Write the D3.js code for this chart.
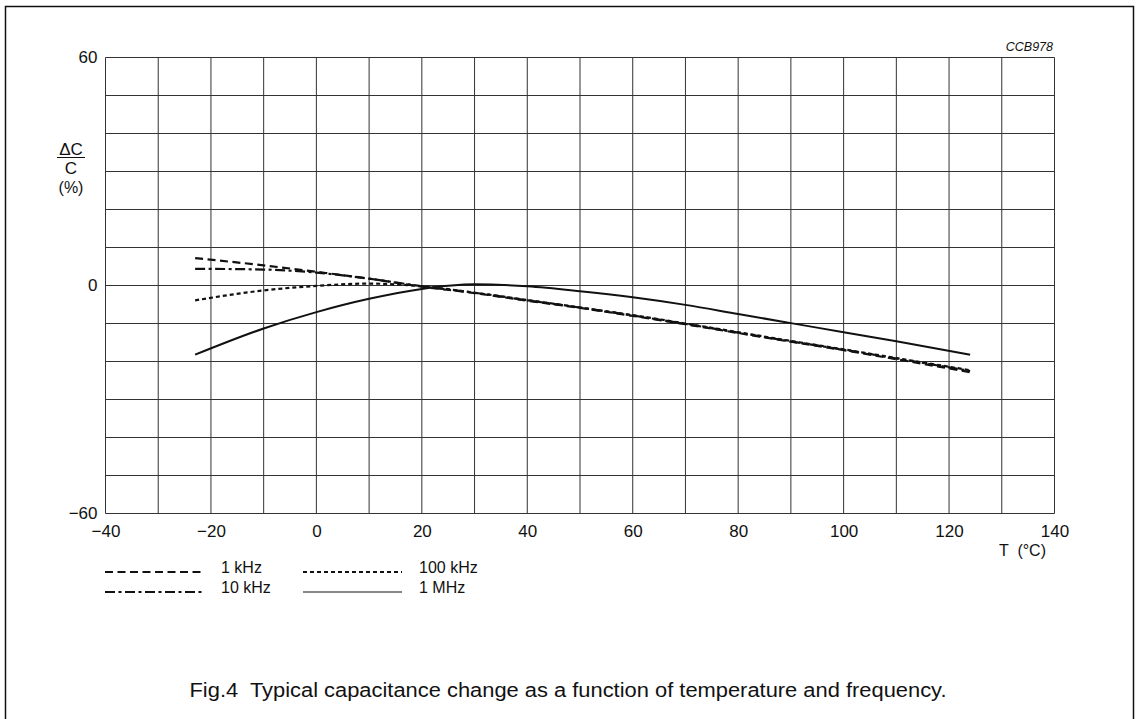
<!DOCTYPE html>
<html>
<head>
<meta charset="utf-8">
<script src="https://cdn.jsdelivr.net/npm/d3@7"></script>
<style>
  body { margin: 0; background: #fff; }
  svg { display: block; }
  text { font-family: "Liberation Sans", Arial, sans-serif; fill: #111; }
</style>
</head>
<body>
<svg id="chart" width="1136" height="719"></svg>
<script>
// temperature points (°C)
const temps = [-23, -10, 0, 10, 20, 30, 40, 50, 60, 70, 80, 90, 100, 110, 124];
// capacitance change (%) per frequency
const khz1   = [7.2, 5.3, 3.6, 1.8, -0.3, -2.0, -4.0, -5.9, -8.0, -10.2, -12.5, -14.8, -17.0, -19.4, -22.8];
const khz10  = [4.4, 4.2, 3.4, 1.8, -0.2, -1.9, -3.9, -5.8, -7.9, -10.1, -12.4, -14.7, -16.9, -19.2, -22.5];
const khz100 = [-3.9, -1.3, -0.1, 0.5, -0.2, -1.9, -3.8, -5.8, -7.8, -10.0, -12.3, -14.6, -16.8, -19.1, -22.3];
const mhz1   = [-18.2, -11.3, -7.0, -3.5, -0.9, 0.3, -0.2, -1.5, -3.1, -5.1, -7.5, -9.9, -12.3, -14.7, -18.2];

const seriesNames = ["1 kHz", "10 kHz", "100 kHz", "1 MHz"];
const xTickLabels = [-40, -20, 0, 20, 40, 60, 80, 100, 120, 140];
const yTickLabels = [-60, 0, 60];

const svg = d3.select("#chart");

// outer frame (bottom edge is off the page)
svg.append("path")
  .attr("d", "M5.5,719 L5.5,6.5 L1133.5,6.5 L1133.5,719")
  .attr("fill", "none")
  .attr("stroke", "#111")
  .attr("stroke-width", 1.5);

const x = d3.scaleLinear().domain([-40, 140]).range([105.5, 1054.5]);
const y = d3.scaleLinear().domain([-60, 60]).range([513.5, 57.5]);

// grid every 10 units
const grid = svg.append("g").attr("class", "grid");
grid.selectAll("line.v")
  .data(d3.range(-40, 141, 10))
  .join("line")
  .attr("x1", d => x(d)).attr("x2", d => x(d))
  .attr("y1", y(60)).attr("y2", y(-60))
  .attr("stroke", "#333").attr("stroke-width", 1);
grid.selectAll("line.h")
  .data(d3.range(-60, 61, 10))
  .join("line")
  .attr("y1", d => y(d)).attr("y2", d => y(d))
  .attr("x1", x(-40)).attr("x2", x(140))
  .attr("stroke", "#333").attr("stroke-width", 1);

// axes - labels only, grid does the lines
const xAxis = svg.append("g")
  .attr("transform", `translate(0,${y(-60)})`)
  .call(d3.axisBottom(x).tickValues(xTickLabels).tickSize(0).tickPadding(11));
xAxis.select(".domain").remove();
xAxis.selectAll("text").attr("font-size", 17).attr("font-family", "Liberation Sans, Arial, sans-serif").attr("fill", "#111");

const yAxis = svg.append("g")
  .attr("transform", `translate(${x(-40)},0)`)
  .call(d3.axisLeft(y).tickValues(yTickLabels).tickSize(0).tickPadding(8));
yAxis.select(".domain").remove();
yAxis.selectAll("text").attr("font-size", 17).attr("font-family", "Liberation Sans, Arial, sans-serif").attr("fill", "#111");

// y axis title: ΔC over C, (%)
svg.append("text").attr("x", 71).attr("y", 155).attr("text-anchor", "middle").attr("font-size", 17).text("ΔC");
svg.append("line").attr("x1", 57).attr("x2", 85).attr("y1", 157.5).attr("y2", 157.5).attr("stroke", "#111").attr("stroke-width", 1);
svg.append("text").attr("x", 71).attr("y", 174).attr("text-anchor", "middle").attr("font-size", 17).text("C");
svg.append("text").attr("x", 71).attr("y", 193).attr("text-anchor", "middle").attr("font-size", 16).text("(%)");

// x axis title
svg.append("text").attr("x", 999).attr("y", 556).attr("font-size", 16).attr("xml:space", "preserve").text("T  (°C)");

// figure code
svg.append("text").attr("x", 1053).attr("y", 51).attr("text-anchor", "end")
  .attr("font-size", 12.5).attr("font-style", "italic").text("CCB978");

// curves
const styles = [
  { vals: khz1,   dash: "8,4.5",          w: 2.2 },
  { vals: khz10,  dash: "10,3.5,3,3.5",   w: 2.2 },
  { vals: khz100, dash: "4,3",            w: 2.2 },
  { vals: mhz1,   dash: null,             w: 2 }
];

const line = d3.line()
  .x(d => x(d[0]))
  .y(d => y(d[1]))
  .curve(d3.curveMonotoneX);

styles.forEach(s => {
  svg.append("path")
    .attr("d", line(temps.map((t, i) => [t, s.vals[i]])))
    .attr("fill", "none")
    .attr("stroke", "#111")
    .attr("stroke-width", s.w)
    .attr("stroke-dasharray", s.dash);
});

// legend
const legendPos = [
  { lx: 105, ly: 572 },
  { lx: 105, ly: 592 },
  { lx: 303, ly: 572 },
  { lx: 303, ly: 592 }
];
seriesNames.forEach((name, i) => {
  const p = legendPos[i];
  svg.append("line")
    .attr("x1", p.lx).attr("x2", p.lx + 99)
    .attr("y1", p.ly).attr("y2", p.ly)
    .attr("stroke", "#111")
    .attr("stroke-width", i === 3 ? 1.2 : 2.2)
    .attr("stroke-dasharray", styles[i].dash);
  svg.append("text")
    .attr("x", p.lx + 116).attr("y", p.ly + 1)
    .attr("font-size", 16)
    .text(name);
});

// caption
svg.append("text")
  .attr("x", 568).attr("y", 697)
  .attr("text-anchor", "middle")
  .attr("font-size", 20)
  .attr("textLength", 757)
  .attr("lengthAdjust", "spacingAndGlyphs")
  .attr("xml:space", "preserve")
  .text("Fig.4  Typical capacitance change as a function of temperature and frequency.");
</script>
</body>
</html>
